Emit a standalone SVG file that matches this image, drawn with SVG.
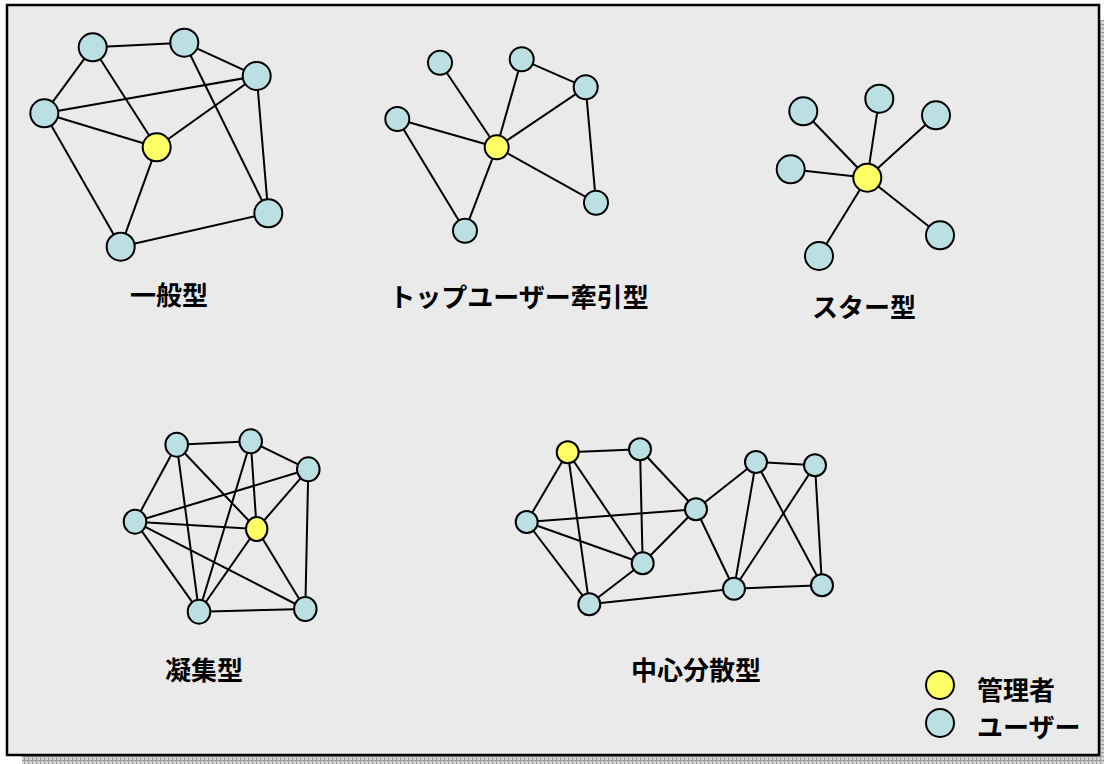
<svg xmlns="http://www.w3.org/2000/svg" width="1104" height="764" viewBox="0 0 1104 764">
<defs>
<pattern id="hatch" width="4" height="4" patternUnits="userSpaceOnUse">
<rect width="4" height="4" fill="#d4d4d4"/>
<path d="M0 0.5H4M0.5 0V4" stroke="#9a9a9a" stroke-width="1"/>
</pattern>
<style>
.e line{stroke:#000;stroke-width:2}
.u{fill:#BBE0E3;stroke:#000;stroke-width:2}
.m{fill:#FFFF66;stroke:#000;stroke-width:2}
.t{font-family:"Noto Sans CJK JP","Noto Sans CJK SC",sans-serif;font-weight:bold;font-size:26px;fill:#000}
</style>
</defs>
<rect x="22" y="20" width="1090" height="750" fill="url(#hatch)"/>
<rect x="7" y="5" width="1092" height="750" fill="#EAEAEA" stroke="#000" stroke-width="2.5"/>

<!-- connectors -->
<g id="connectors" class="e">
<!-- 一般型 -->
<line x1="92.7" y1="47.3" x2="184.3" y2="42.7"/>
<line x1="184.3" y1="42.7" x2="256.7" y2="76"/>
<line x1="92.7" y1="47.3" x2="44.3" y2="113.3"/>
<line x1="92.7" y1="47.3" x2="156.7" y2="147.3"/>
<line x1="44.3" y1="113.3" x2="256.7" y2="76"/>
<line x1="44.3" y1="113.3" x2="156.7" y2="147.3"/>
<line x1="156.7" y1="147.3" x2="256.7" y2="76"/>
<line x1="184.3" y1="42.7" x2="268.3" y2="213.3"/>
<line x1="256.7" y1="76" x2="268.3" y2="213.3"/>
<line x1="44.3" y1="113.3" x2="120.7" y2="246.7"/>
<line x1="156.7" y1="147.3" x2="120.7" y2="246.7"/>
<line x1="120.7" y1="246.7" x2="268.3" y2="213.3"/>
<!-- トップユーザー牽引型 -->
<line x1="440" y1="62.7" x2="496.7" y2="147.3"/>
<line x1="521.7" y1="59.3" x2="496.7" y2="147.3"/>
<line x1="521.7" y1="59.3" x2="585.7" y2="87.3"/>
<line x1="585.7" y1="87.3" x2="496.7" y2="147.3"/>
<line x1="585.7" y1="87.3" x2="596" y2="202.7"/>
<line x1="397.3" y1="119" x2="496.7" y2="147.3"/>
<line x1="397.3" y1="119" x2="465" y2="230.7"/>
<line x1="496.7" y1="147.3" x2="465" y2="230.7"/>
<line x1="496.7" y1="147.3" x2="596" y2="202.7"/>
<!-- スター型 -->
<line x1="867.3" y1="177.7" x2="803.3" y2="111.3"/>
<line x1="867.3" y1="177.7" x2="879.3" y2="98.7"/>
<line x1="867.3" y1="177.7" x2="936" y2="115.3"/>
<line x1="867.3" y1="177.7" x2="790.7" y2="169.3"/>
<line x1="867.3" y1="177.7" x2="940" y2="235.3"/>
<line x1="867.3" y1="177.7" x2="819" y2="256"/>
<!-- 凝集型 -->
<line x1="176.7" y1="444.7" x2="250.7" y2="441.3"/>
<line x1="250.7" y1="441.3" x2="308.3" y2="469.3"/>
<line x1="176.7" y1="444.7" x2="135" y2="521.7"/>
<line x1="176.7" y1="444.7" x2="199" y2="611.7"/>
<line x1="176.7" y1="444.7" x2="256.7" y2="529"/>
<line x1="250.7" y1="441.3" x2="199" y2="611.7"/>
<line x1="250.7" y1="441.3" x2="256.7" y2="529"/>
<line x1="308.3" y1="469.3" x2="135" y2="521.7"/>
<line x1="308.3" y1="469.3" x2="256.7" y2="529"/>
<line x1="308.3" y1="469.3" x2="305.3" y2="609"/>
<line x1="135" y1="521.7" x2="256.7" y2="529"/>
<line x1="135" y1="521.7" x2="305.3" y2="609"/>
<line x1="135" y1="521.7" x2="199" y2="611.7"/>
<line x1="256.7" y1="529" x2="199" y2="611.7"/>
<line x1="256.7" y1="529" x2="305.3" y2="609"/>
<line x1="199" y1="611.7" x2="305.3" y2="609"/>
<!-- 中心分散型 -->
<line x1="567.7" y1="452.3" x2="640" y2="449.3"/>
<line x1="567.7" y1="452.3" x2="526.7" y2="522"/>
<line x1="567.7" y1="452.3" x2="589.3" y2="604.3"/>
<line x1="567.7" y1="452.3" x2="642.7" y2="563.3"/>
<line x1="640" y1="449.3" x2="642.7" y2="563.3"/>
<line x1="640" y1="449.3" x2="696" y2="509.3"/>
<line x1="526.7" y1="522" x2="696" y2="509.3"/>
<line x1="526.7" y1="522" x2="642.7" y2="563.3"/>
<line x1="526.7" y1="522" x2="589.3" y2="604.3"/>
<line x1="642.7" y1="563.3" x2="696" y2="509.3"/>
<line x1="642.7" y1="563.3" x2="589.3" y2="604.3"/>
<line x1="696" y1="509.3" x2="756" y2="462"/>
<line x1="696" y1="509.3" x2="734" y2="588.7"/>
<line x1="756" y1="462" x2="815" y2="465.3"/>
<line x1="756" y1="462" x2="734" y2="588.7"/>
<line x1="756" y1="462" x2="822" y2="585.3"/>
<line x1="815" y1="465.3" x2="734" y2="588.7"/>
<line x1="815" y1="465.3" x2="822" y2="585.3"/>
<line x1="589.3" y1="604.3" x2="734" y2="588.7"/>
<line x1="734" y1="588.7" x2="822" y2="585.3"/>
</g>

<!-- 一般型 nodes -->
<g id="g1">
<circle id="g1-a" class="u" cx="92.7" cy="47.3" r="14"/>
<circle id="g1-b" class="u" cx="184.3" cy="42.7" r="14"/>
<circle id="g1-c" class="u" cx="256.7" cy="76" r="14"/>
<circle id="g1-d" class="u" cx="44.3" cy="113.3" r="14"/>
<circle id="g1-m" class="m" cx="156.7" cy="147.3" r="14"/>
<circle id="g1-f" class="u" cx="268.3" cy="213.3" r="14"/>
<circle id="g1-g" class="u" cx="120.7" cy="246.7" r="14"/>
<text id="g1-label" class="t" x="169" y="305" text-anchor="middle">一般型</text>
</g>

<!-- トップユーザー牽引型 nodes -->
<g id="g2">
<circle id="g2-a" class="u" cx="440" cy="62.7" r="12"/>
<circle id="g2-b" class="u" cx="521.7" cy="59.3" r="12"/>
<circle id="g2-c" class="u" cx="585.7" cy="87.3" r="12"/>
<circle id="g2-d" class="u" cx="397.3" cy="119" r="12"/>
<circle id="g2-m" class="m" cx="496.7" cy="147.3" r="12"/>
<circle id="g2-f" class="u" cx="596" cy="202.7" r="12"/>
<circle id="g2-g" class="u" cx="465" cy="230.7" r="12"/>
<text id="g2-label" class="t" x="519" y="307" text-anchor="middle">トップユーザー牽引型</text>
</g>

<!-- スター型 nodes -->
<g id="g3">
<circle id="g3-a" class="u" cx="803.3" cy="111.3" r="14"/>
<circle id="g3-b" class="u" cx="879.3" cy="98.7" r="14"/>
<circle id="g3-c" class="u" cx="936" cy="115.3" r="14"/>
<circle id="g3-d" class="u" cx="790.7" cy="169.3" r="14"/>
<circle id="g3-m" class="m" cx="867.3" cy="177.7" r="14"/>
<circle id="g3-f" class="u" cx="940" cy="235.3" r="14"/>
<circle id="g3-g" class="u" cx="819" cy="256" r="14"/>
<text id="g3-label" class="t" x="864" y="317" text-anchor="middle">スター型</text>
</g>

<!-- 凝集型 nodes -->
<g id="g4">
<ellipse id="g4-a" class="u" cx="176.7" cy="444.7" rx="11.3" ry="12"/>
<ellipse id="g4-b" class="u" cx="250.7" cy="441.3" rx="11.3" ry="12"/>
<ellipse id="g4-c" class="u" cx="308.3" cy="469.3" rx="11.3" ry="12"/>
<ellipse id="g4-d" class="u" cx="135" cy="521.7" rx="11.3" ry="12"/>
<ellipse id="g4-m" class="m" cx="256.7" cy="529" rx="10.7" ry="12"/>
<ellipse id="g4-f" class="u" cx="199" cy="611.7" rx="11.3" ry="12"/>
<ellipse id="g4-g" class="u" cx="305.3" cy="609" rx="11.3" ry="12"/>
<text id="g4-label" class="t" x="204" y="680" text-anchor="middle">凝集型</text>
</g>

<!-- 中心分散型 nodes -->
<g id="g5">
<circle id="g5-m" class="m" cx="567.7" cy="452.3" r="11"/>
<circle id="g5-b" class="u" cx="640" cy="449.3" r="11"/>
<circle id="g5-c" class="u" cx="526.7" cy="522" r="11"/>
<circle id="g5-d" class="u" cx="696" cy="509.3" r="11"/>
<circle id="g5-e" class="u" cx="642.7" cy="563.3" r="11"/>
<circle id="g5-f" class="u" cx="589.3" cy="604.3" r="11"/>
<circle id="g5-g" class="u" cx="756" cy="462" r="11"/>
<circle id="g5-h" class="u" cx="815" cy="465.3" r="11"/>
<circle id="g5-i" class="u" cx="734" cy="588.7" r="11"/>
<circle id="g5-j" class="u" cx="822" cy="585.3" r="11"/>
<text id="g5-label" class="t" x="696" y="680" text-anchor="middle">中心分散型</text>
</g>

<!-- legend -->
<g id="legend">
<circle class="m" cx="940" cy="685" r="14"/>
<circle class="u" cx="940" cy="723" r="14"/>
<text class="t" x="977" y="700">管理者</text>
<text class="t" x="977" y="737">ユーザー</text>
</g>
</svg>
